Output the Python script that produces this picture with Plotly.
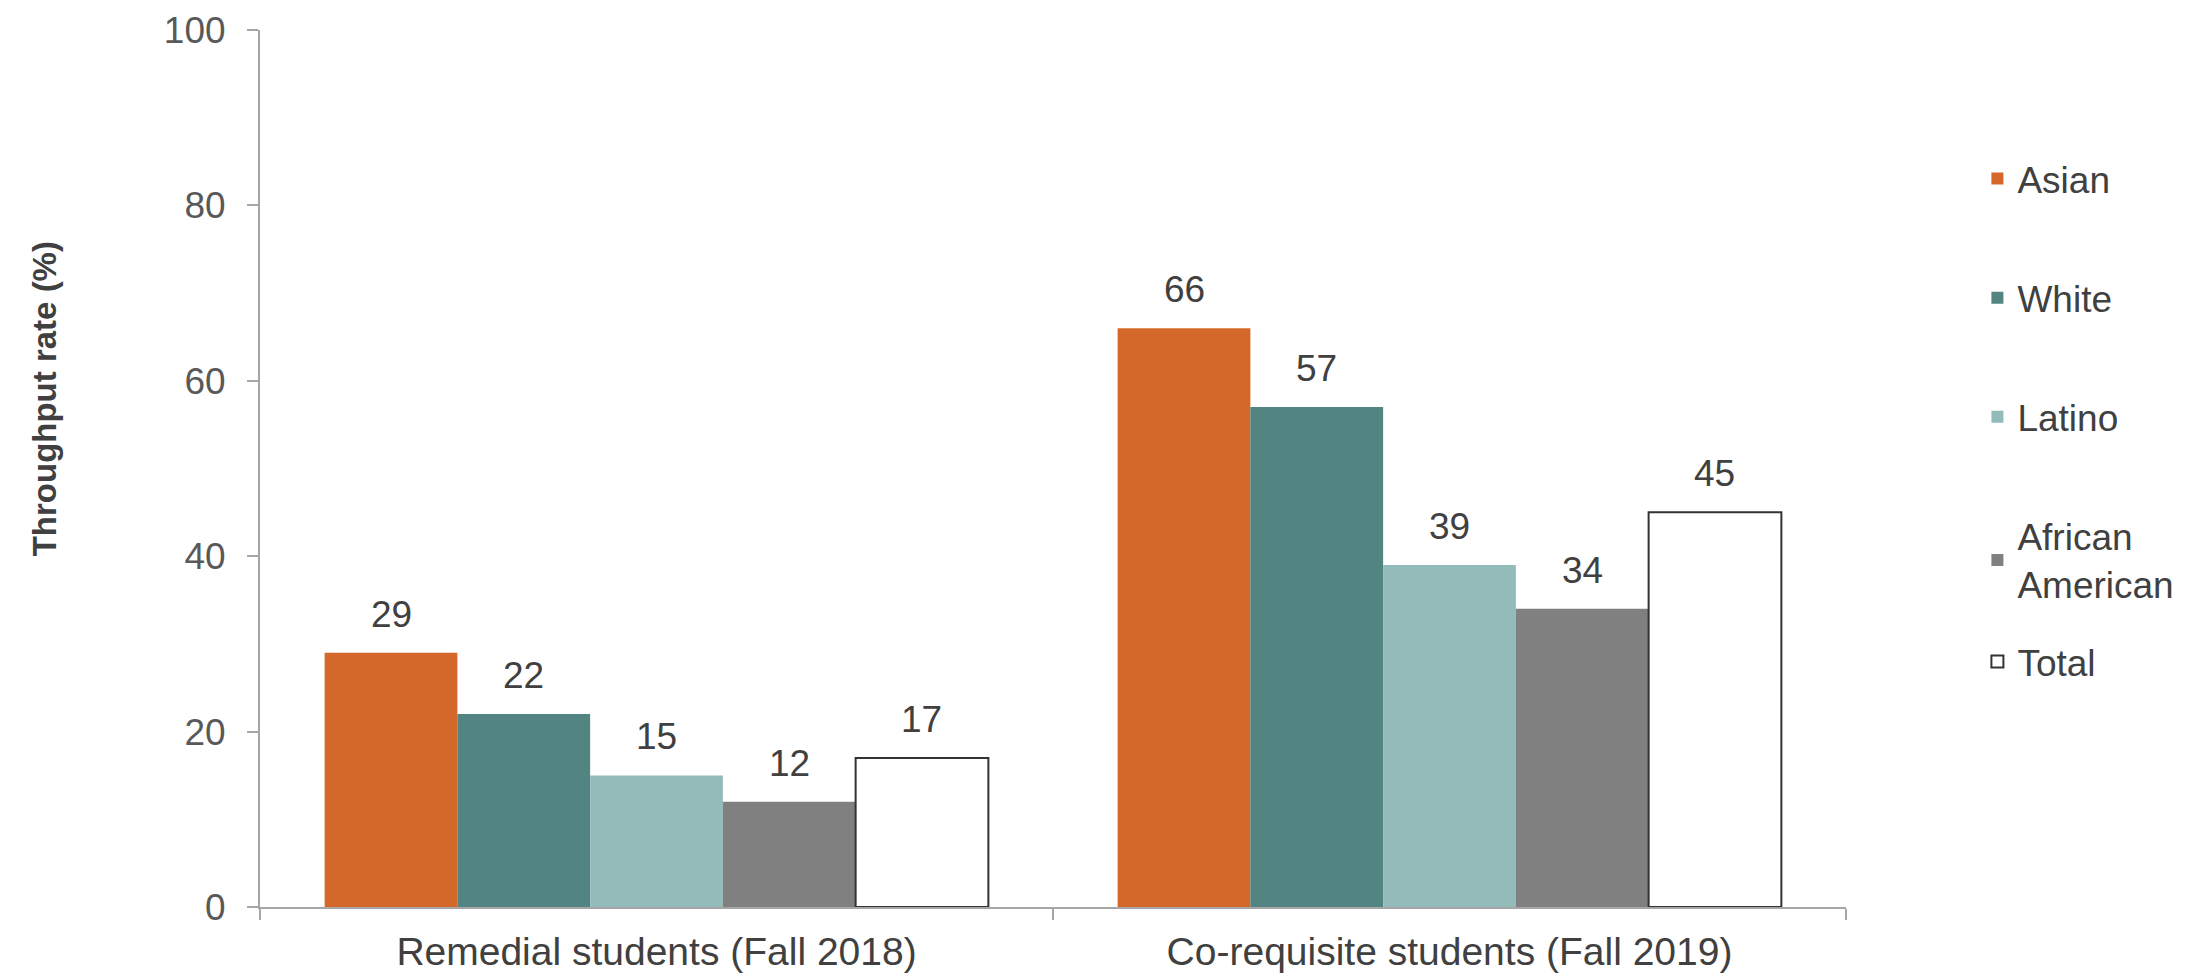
import plotly.graph_objects as go

categories = ["Remedial students (Fall 2018)", "Co-requisite students (Fall 2019)"]
series_names = ["Asian", "White", "Latino", "African<br>American", "Total"]
asian = [29, 66]
white = [22, 57]
latino = [15, 39]
african_american = [12, 34]
total = [17, 45]
y_ticks = [0, 20, 40, 60, 80, 100]

series_values = [asian, white, latino, african_american, total]
fill_colors = ["#D4682A", "#528482", "#93BBBA", "#808080", "#FFFFFF"]
line_colors = ["#D4682A", "#528482", "#93BBBA", "#808080", "#333333"]
line_widths = [0, 0, 0, 0, 2]
legend_ids = ["legend", "legend", "legend", "legend", "legend2"]

W, H = 2198, 975
L, R, T, B = 252, 360, 22, 76
BARGAP = 0.163
TEXT = "#404040"
FONT = "Liberation Sans, Arial, sans-serif"

plot_w = W - L - R
bar_w = plot_w / len(categories) * (1 - BARGAP) / len(series_names)

fig = go.Figure()
for i, (name, vals, fc, lc, lw, lg) in enumerate(zip(series_names, series_values, fill_colors, line_colors, line_widths, legend_ids)):
    fig.add_trace(go.Bar(
        name=name,
        x=categories,
        y=vals,
        legendgroup=name,
        legend=lg,
        marker=dict(color=fc, line=dict(color=lc, width=lw)),
        cliponaxis=False,
    ))
    offset = (i - (len(series_names) - 1) / 2) * bar_w
    for cat, v in zip(categories, vals):
        fig.add_annotation(
            x=cat, y=v, xref="x", yref="y",
            text=str(v), showarrow=False,
            xshift=offset, yshift=16, yanchor="bottom",
            font=dict(size=37, color=TEXT, family=FONT),
        )

fig.add_annotation(
    text="<b>Throughput rate (%)</b>",
    xref="paper", yref="paper",
    x=-(L - 36) / plot_w, y=0.58,
    xanchor="center", yanchor="middle",
    textangle=-90, showarrow=False,
    font=dict(size=33, color="#404040", family=FONT),
)

legend_style = dict(
    xref="container", yref="container",
    x=0.896,
    xanchor="left",
    font=dict(size=37, color=TEXT, family=FONT),
    tracegroupgap=68,
    maxheight=900,
    bgcolor="rgba(0,0,0,0)",
)

fig.update_layout(
    width=W, height=H,
    barmode="group",
    bargap=BARGAP,
    bargroupgap=0,
    plot_bgcolor="white",
    paper_bgcolor="white",
    font=dict(family=FONT, size=37, color=TEXT),
    margin=dict(l=L, r=R, t=T, b=B, autoexpand=False),
    showlegend=True,
    legend=dict(legend_style, y=1 - 140 / H, yanchor="top"),
    legend2=dict(legend_style, y=1 - 654 / H, yanchor="middle"),
    yaxis=dict(
        range=[0, 100],
        tickvals=y_ticks,
        showgrid=False,
        zeroline=False,
        showline=True,
        linecolor="#A6A6A6",
        linewidth=2,
        ticks="outside",
        ticklen=11,
        tickcolor="#A6A6A6",
        tickwidth=2,
        ticklabelstandoff=14,
        ticklabeloverflow="allow",
        tickfont=dict(size=37, color="#595959", family=FONT),
    ),
    xaxis=dict(
        showgrid=False,
        showline=True,
        linecolor="#A6A6A6",
        linewidth=2,
        ticks="outside",
        tickson="boundaries",
        ticklen=11,
        tickcolor="#A6A6A6",
        tickwidth=2,
        ticklabelstandoff=9,
        ticklabeloverflow="allow",
        tickfont=dict(size=39, color=TEXT, family=FONT),
    ),
)

fig.write_html("out.html")
